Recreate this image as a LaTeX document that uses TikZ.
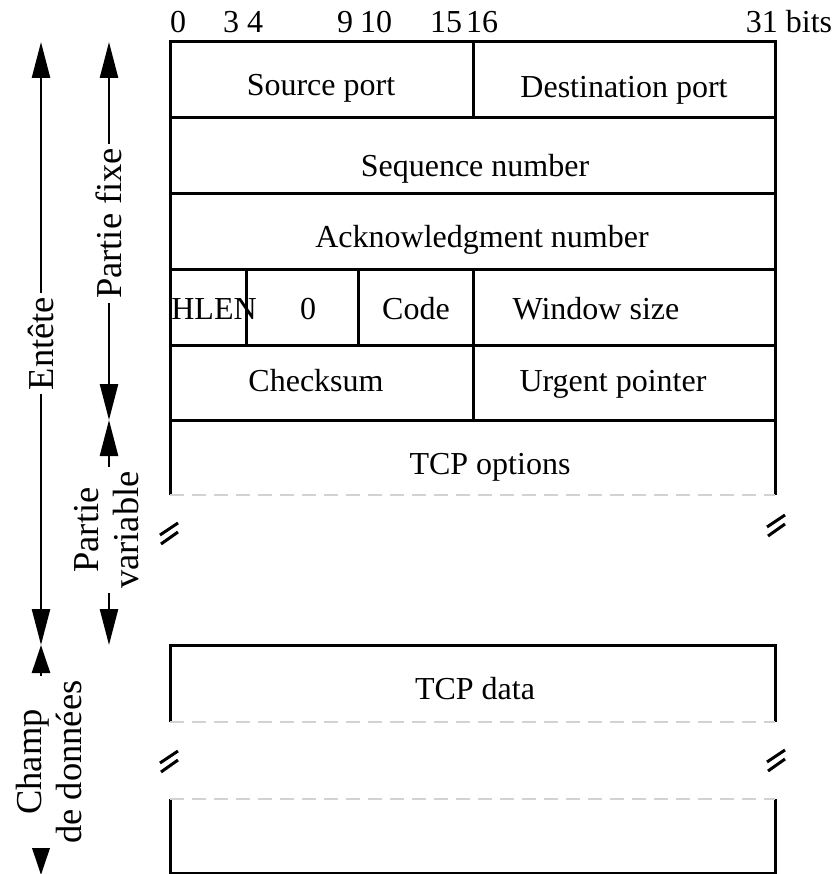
\documentclass[tikz,border=0pt]{standalone}
\usepackage{fontspec}
\setmainfont{Liberation Serif}
\usetikzlibrary{arrows.meta}
\tikzset{
  field/.style = {font = \fontsize{32}{38}\selectfont, inner sep = 0pt, anchor = base},
  span/.style = {line width = 2.5pt,
    {Triangle[length = 36pt, width = 18pt]}-{Triangle[length = 36pt, width = 18pt]}},
  shortspan/.style = {line width = 2.5pt,
    {Triangle[length = 28pt, width = 18pt]}-{Triangle[length = 28pt, width = 18pt]}},
  spanlabel/.style = {font = \fontsize{36.5}{40}\selectfont, rotate = 90, fill = white,
    align = center, inner sep = 4pt},
  cut/.style = {line width = 1.2pt, gray!35, dash pattern = on 14pt off 8pt}
}
\begin{document}
\begin{tikzpicture}
      [x = 1pt, y = -1pt, line width = 3pt]
      \useasboundingbox (0,0) rectangle (836,874);
      % bit numbers
      \foreach \bx/\bt in {178/0, 231/3, 255/4, 345/9, 376/10, 446/15, 482/16, 789/31 bits}
        \node[field] (bit\bx) at (\bx,33) {\bt};
      % header frame
      \draw (170,495) -- (170,42) -- (775,42) -- (775,495);
      \foreach \y in {118, 194, 270, 345, 420}
        \draw (170,\y) -- (775,\y);
      \draw (473,42) -- (473,118);
      \draw (473,270) -- (473,420);
      \draw (246,270) -- (246,345);
      \draw (358,270) -- (358,345);
      \draw[cut] (170,495) -- (775,495);
      % data frame
      \draw (170,722) -- (170,645) -- (775,645) -- (775,722);
      \draw (170,799) -- (170,873) -- (775,873) -- (775,799);
      \draw[cut] (170,722) -- (775,722);
      \draw[cut] (170,799) -- (775,799);
      % break marks
      \foreach \bx/\by in {169/535, 776/527, 169/763, 776/762}
      {
        \draw (\bx-9,\by) -- ++(18,-12);
        \draw (\bx-8,\by+9) -- ++(17,-12);
      }
      % field names
      \node[field] (srcport) at (321,96) {Source port};
      \node[field] (dstport) at (624,98) {Destination port};
      \node[field] (seqnum) at (475,177) {Sequence number};
      \node[field] (acknum) at (482,248) {Acknowledgment number};
      \node[field] (hlen) at (214,319) {HLEN};
      \node[field] (resvd) at (308,319) {0};
      \node[field] (code) at (416,319) {Code};
      \node[field] (winsize) at (596,319) {Window size};
      \node[field] (chksum) at (316,391) {Checksum};
      \node[field] (urgptr) at (613,391) {Urgent pointer};
      \node[field] (options) at (490,474) {TCP options};
      \node[field] (data) at (475,699) {TCP data};
      % extents
      \coordinate (hdtop) at (41,42);
      \coordinate (hdbot) at (41,645);
      \coordinate (fxtop) at (109,42);
      \coordinate (fxbot) at (109,420);
      \coordinate (vrbot) at (109,645);
      \coordinate (dtbot) at (41,875);
      \draw[span] (hdtop) -- node[spanlabel] (entete) {Entête} (hdbot);
      \draw[span] (fxtop) -- node[spanlabel, pos = .48] (fixe) {Partie fixe} (fxbot);
      \draw[span] (fxbot) -- (vrbot);
      \node[spanlabel] (variable) at (107,530) {Partie\\variable};
      \draw[shortspan] (hdbot) -- (dtbot);
      \node[spanlabel] (champ) at (49,762) {Champ\\de données};
    \end{tikzpicture}
\end{document}
